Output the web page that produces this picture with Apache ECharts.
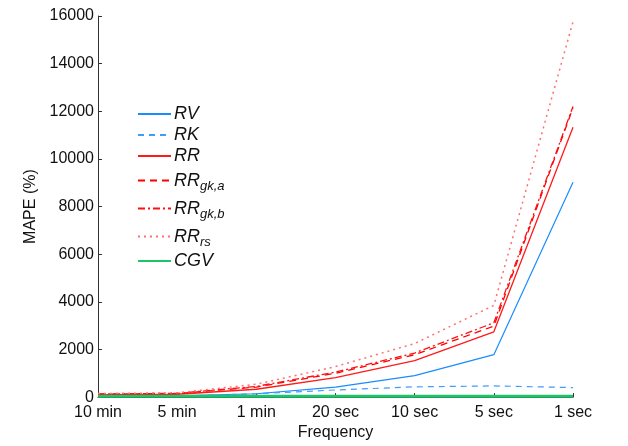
<!DOCTYPE html>
<html>
<head>
<meta charset="utf-8">
<script src="https://cdn.jsdelivr.net/npm/echarts@6/dist/echarts.min.js"></script>
<style>html,body{margin:0;padding:0;background:#fff}#c{width:628px;height:446px}</style>
</head>
<body>
<div id="c"></div>
<script>
var categories = ['10 min', '5 min', '1 min', '20 sec', '10 sec', '5 sec', '1 sec'];
var RV    = [30, 50, 140, 420, 900, 1780, 9020];
var RK    = [20, 40, 140, 300, 430, 470, 400];
var RR    = [100, 120, 330, 820, 1530, 2740, 11330];
var RRgka = [120, 150, 420, 1000, 1780, 2980, 12150];
var RRgkb = [130, 160, 450, 1050, 1850, 3120, 12200];
var RRrs  = [150, 180, 540, 1280, 2250, 3850, 15760];
var CGV   = [40, 40, 40, 40, 40, 40, 40];
var yTicks = [0, 2000, 4000, 6000, 8000, 10000, 12000, 14000, 16000];

var legendRich = {
  'RV': '{m|RV}', 'RK': '{m|RK}', 'RR': '{m|RR}',
  'RRgka': '{m|RR}{s|gk,a}', 'RRgkb': '{m|RR}{s|gk,b}',
  'RRrs': '{m|RR}{s|rs}', 'CGV': '{m|CGV}'
};

function mk(name, data, color, type, width, z) {
  return {
    name: name, type: 'line', data: data, symbol: 'none', z: z || 2,
    lineStyle: { color: color, width: width, type: type },
    itemStyle: { color: color },
    emphasis: { disabled: true }, animation: false
  };
}

var chart = echarts.init(document.getElementById('c'));
chart.setOption({
  animation: false,
  grid: { left: 98, right: 55, top: 16, bottom: 47 },
  legend: {
    orient: 'vertical', left: 132, top: 100, itemGap: 3,
    itemWidth: 33, itemHeight: 12,
    itemStyle: { opacity: 0, borderWidth: 0 },
    data: ['RV', 'RK', 'RR', 'RRgka', 'RRgkb', 'RRrs', 'CGV'],
    formatter: function (n) { return legendRich[n]; },
    textStyle: {
      padding: [0, 0, 0, -2],
      rich: {
        m: { fontFamily: 'Liberation Sans', fontStyle: 'italic', fontSize: 18, lineHeight: 19, color: '#111' },
        s: { fontFamily: 'Liberation Sans', fontStyle: 'italic', fontSize: 13, lineHeight: 13, color: '#111', padding: [12, 0, 0, 0] }
      }
    }
  },
  xAxis: {
    type: 'category', data: categories, boundaryGap: false,
    name: 'Frequency', nameLocation: 'middle', nameGap: 26,
    nameTextStyle: { fontFamily: 'Liberation Sans', fontSize: 16, color: '#111' },
    axisLine: { lineStyle: { color: '#333', width: 1 } },
    axisTick: { inside: true, length: 4, lineStyle: { color: '#333' } },
    axisLabel: { fontFamily: 'Liberation Sans', fontSize: 16, color: '#111', margin: 7 },
    splitLine: { show: false }
  },
  yAxis: {
    type: 'value', min: yTicks[0], max: yTicks[yTicks.length - 1], interval: 2000,
    name: 'MAPE (%)', nameLocation: 'middle', nameGap: 57,
    nameTextStyle: { fontFamily: 'Liberation Sans', fontSize: 16, color: '#111' },
    axisLine: { show: true, lineStyle: { color: '#333', width: 1 } },
    axisTick: { show: true, inside: true, length: 4, lineStyle: { color: '#333' } },
    axisLabel: { fontFamily: 'Liberation Sans', fontSize: 16, color: '#111', margin: 4,
      formatter: function (v) { return String(v); } },
    splitLine: { show: false }
  },
  series: [
    mk('RV', RV, '#1a8cff', 'solid', 1.2),
    mk('RK', RK, '#3d9cff', [6, 5], 1.2),
    mk('RR', RR, '#ff1a1a', 'solid', 1.3),
    mk('RRgka', RRgka, '#ff0000', [7, 5], 1.3),
    mk('RRgkb', RRgkb, '#ff1010', [7, 3, 2, 3], 1.3),
    mk('RRrs', RRrs, '#ff7070', [2, 4], 1.5),
    mk('CGV', CGV, '#1ec46a', 'solid', 3, 5)
  ]
});
</script>
</body>
</html>
